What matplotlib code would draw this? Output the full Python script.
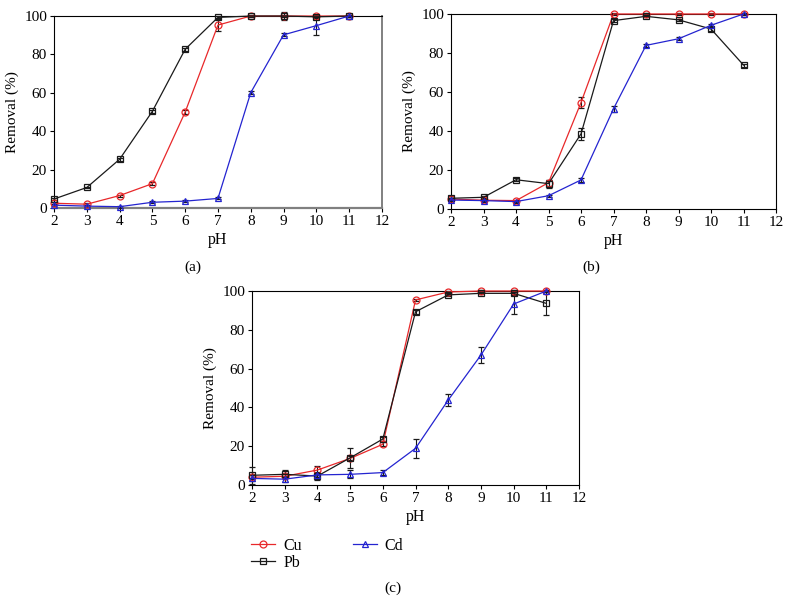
import numpy as np
import matplotlib
matplotlib.use("Agg")
import matplotlib.pyplot as plt
from matplotlib.lines import Line2D

plt.rcParams['font.family'] = ['Liberation Serif', 'DejaVu Serif']

ph = [2, 3, 4, 5, 6, 7, 8, 9, 10, 11]

# (a)
cu_a = [2.5, 2.0, 6.5, 12.7, 50.0, 95.3, 100, 100, 100, 100]
cu_a_err = [0.5, 0.5, 0.5, 0.8, 1.0, 3.0, 0.5, 0.5, 0.5, 0.5]
pb_a = [4.7, 10.7, 25.4, 50.4, 82.7, 99.3, 100, 100, 99.6, 100]
pb_a_err = [0.5, 0.5, 0.8, 0.8, 0.8, 0.5, 0.5, 2.0, 0.5, 0.5]
cd_a = [1.5, 1.0, 0.7, 3.0, 3.6, 5.0, 60.1, 90.2, 95.0, 100]
cd_a_err = [0.5, 0.5, 0.5, 0.5, 0.5, 0.5, 0.8, 0.8, 5.0, 0.5]

# (b)
cu_b = [5.1, 4.5, 4.3, 13.5, 54.6, 100, 100, 100, 100, 100]
cu_b_err = [0.5, 0.5, 0.5, 1.5, 3.0, 0.5, 0.5, 0.5, 0.5, 0.5]
pb_b = [5.5, 6.0, 15.0, 13.0, 38.5, 96.6, 98.8, 97.0, 92.3, 73.8]
pb_b_err = [1.0, 0.5, 0.8, 2.0, 3.0, 0.8, 0.5, 0.5, 0.8, 0.8]
cd_b = [4.6, 4.3, 3.8, 6.8, 14.9, 51.4, 83.9, 87.3, 94.2, 100]
cd_b_err = [0.5, 0.5, 0.5, 0.5, 1.0, 1.5, 0.8, 0.8, 0.8, 0.5]

# (c)
cu_c = [4.0, 4.5, 7.7, 13.7, 21.0, 95.4, 99.5, 100, 100, 100]
cu_c_err = [1.0, 1.0, 2.0, 1.0, 1.0, 0.5, 0.5, 0.5, 0.5, 0.5]
pb_c = [5.0, 5.5, 4.6, 14.0, 23.7, 89.3, 98.0, 98.8, 98.8, 93.6]
pb_c_err = [4.5, 2.0, 2.0, 5.0, 1.0, 1.0, 0.5, 0.5, 0.8, 6.0]
cd_c = [3.4, 3.0, 5.2, 5.5, 6.4, 18.9, 43.8, 67.0, 93.3, 100]
cd_c_err = [1.5, 1.5, 1.0, 2.0, 1.5, 5.0, 3.0, 4.0, 5.0, 0.5]

series_labels = ['Cu', 'Pb', 'Cd']
colors = ['#e8282a', '#1a1a1a', '#2424d0']
markers = ['o', 's', '^']

fig = plt.figure(figsize=(7.9, 6.03), dpi=100)
axes_pos = [
    [0.0684, 0.655, 0.415, 0.3184],
    [0.5709, 0.6534, 0.4114, 0.3234],
    [0.319, 0.1957, 0.414, 0.3217],
]
panels = [
    (cu_a, cu_a_err, pb_a, pb_a_err, cd_a, cd_a_err),
    (cu_b, cu_b_err, pb_b, pb_b_err, cd_b, cd_b_err),
    (cu_c, cu_c_err, pb_c, pb_c_err, cd_c, cd_c_err),
]
panel_tags = ['(a)', '(b)', '(c)']
tag_xy = [(0.244, 0.557), (0.749, 0.557), (0.497, 0.025)]

for k, pos in enumerate(axes_pos):
    ax = fig.add_axes(pos)
    d = panels[k]
    for i in range(3):
        ax.errorbar(ph, d[2 * i], yerr=d[2 * i + 1], color=colors[i],
                    marker=markers[i], markersize=5, markerfacecolor='none',
                    markeredgewidth=0.9, linewidth=0.9, ecolor='#1a1a1a',
                    elinewidth=0.8, capsize=2, capthick=0.8,
                    clip_on=False, zorder=3)
    ax.set_xlim(2, 12)
    ax.set_ylim(0, 100)
    ax.set_xticks(range(2, 13))
    ax.set_yticks(range(0, 101, 20))
    ax.tick_params(direction='out', length=3, width=0.8, labelsize=11, pad=2)
    ax.set_xlabel('pH', fontsize=11.5, labelpad=3)
    ax.set_ylabel('Removal (%)', fontsize=11, labelpad=4)
    for s in ax.spines.values():
        s.set_linewidth(0.8)
    if k == 0:
        ax.spines['bottom'].set_color('#808080')
        ax.spines['bottom'].set_linewidth(1.6)
        ax.spines['right'].set_color('#808080')
        ax.spines['right'].set_linewidth(1.4)
    fig.text(tag_xy[k][0], tag_xy[k][1], panel_tags[k], ha='center', va='center', fontsize=11)

handles = [Line2D([], [], color=colors[i], marker=markers[i], markersize=5,
                  markerfacecolor='none', markeredgewidth=0.9, linewidth=0.9)
           for i in range(3)]
fig.legend(handles=handles, labels=series_labels, ncol=2, loc='upper left',
           bbox_to_anchor=(0.318, 0.108), frameon=False, fontsize=11.5,
           handlelength=1.5, columnspacing=3.2, labelspacing=0.05,
           handletextpad=0.5, borderpad=0, borderaxespad=0)

fig.savefig('out.png', dpi=100)
